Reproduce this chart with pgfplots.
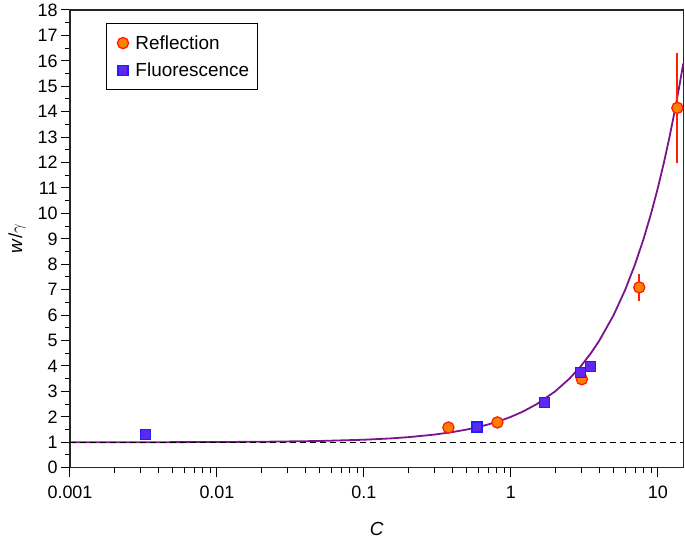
\documentclass[border=0pt]{standalone}
\usepackage{pgfplots}
\pgfplotsset{compat=1.18}
\usepackage{fontspec}
\setmainfont{Liberation Sans}
\definecolor{curvepurple}{RGB}{122,20,140}
\definecolor{refFill}{RGB}{255,128,0}
\definecolor{refEdge}{RGB}{255,30,0}
\definecolor{fluFill}{RGB}{95,40,240}
\definecolor{fluEdge}{RGB}{30,30,255}
\begin{document}
\begin{tikzpicture}
\begin{axis}[
  name=ax, at={(0,0)}, anchor=south west,
  scale only axis, width=613.3bp, height=457.7bp,
  xmode=log, xmin=0.001, xmax=14.9, ymin=0, ymax=18,
  xtick={0.001,0.01,0.1,1,10}, xticklabels={0.001,0.01,0.1,1,10},
  minor xtick={0.002,0.003,0.004,0.005,0.006,0.007,0.008,0.009,
               0.02,0.03,0.04,0.05,0.06,0.07,0.08,0.09,
               0.2,0.3,0.4,0.5,0.6,0.7,0.8,0.9,
               2,3,4,5,6,7,8,9},
  ytick={0,1,...,18}, minor y tick num=1,
  tick align=outside, xtick pos=bottom, ytick pos=left,
  major tick length=9bp, minor tick length=5bp,
  tick style={black, line width=1bp},
  axis line style={line width=1.2bp, black!85},
  /pgf/number format/assume math mode=true,
  every tick label/.append style={font=\fontsize{18}{18}\selectfont},
  xticklabel style={yshift=-6bp},
  xlabel={\textit{C}}, ylabel={\textit{w}/$\gamma$},
  label style={font=\fontsize{19}{19}\selectfont},
  xlabel style={at={(axis description cs:0.5,-0.133)}, anchor=center},
  ylabel style={at={(axis description cs:-0.0865,0.5)}, anchor=center},
  legend style={at={(rel axis cs:0.0587,0.9716)}, anchor=north west,
    draw=black, line width=1bp, font=\fontsize{19}{22}\selectfont,
    inner xsep=6bp, inner ysep=10bp, row sep=8bp},
  legend cell align=left,
  legend image code/.code={\path (0bp,0bp) (20bp,0bp);
    \draw[#1] plot coordinates {(10bp,0bp)};},
  clip=false,
]
% fitted curve
\addplot[curvepurple, line width=1.8bp, forget plot] coordinates {
 (0.001,1.001) (0.002,1.002) (0.005,1.005) (0.01,1.01) (0.02,1.02)
 (0.05,1.05) (0.1,1.1) (0.15,1.15) (0.2,1.2) (0.3,1.3) (0.4,1.4)
 (0.5,1.5) (0.6,1.6) (0.7,1.7) (0.8,1.8) (0.9,1.9) (1,2) (1.2,2.2)
 (1.5,2.5) (2,3) (2.5,3.5) (3,4) (3.5,4.5) (4,5) (5,6) (6,7) (7,8)
 (8,9) (9,10) (10,11) (11,12) (12,13) (13,14) (14,15) (14.9,15.9)};
\addplot[black, line width=1.2bp, dash pattern=on 6bp off 4bp, forget plot]
 coordinates {(0.001,1) (14.9,1)};
% Reflection error bars (vertical segments)
\addplot[forget plot, refEdge, line width=2bp, solid, mark=none]
 coordinates {(7.47,6.57) (7.47,7.61)};
\addplot[forget plot, draw=refEdge, line width=2.2bp, solid, mark=none]
 coordinates {(13.58,11.98) (13.58,16.32)};
% Reflection
\addplot[only marks, mark=*, mark size=5.6bp,
  mark options={fill=refFill, draw=refEdge, line width=1.3bp}]
 coordinates {
 (0.376,1.58) (0.81,1.78) (3.04,3.48) (7.47,7.09) (13.58,14.15)};
\addlegendentry{Reflection}
% Fluorescence
\addplot[only marks, mark=square*, mark size=5bp,
  mark options={fill=fluFill, draw=fluEdge, line width=1.2bp}]
 coordinates {
 (0.00327,1.30) (0.588,1.60) (1.69,2.56) (2.99,3.74) (3.47,3.98)};
\addlegendentry{Fluorescence}
\end{axis}
\pgfresetboundingbox
\path (-70bp,-77.3bp) rectangle (615bp,467.7bp);
\end{tikzpicture}
\end{document}
